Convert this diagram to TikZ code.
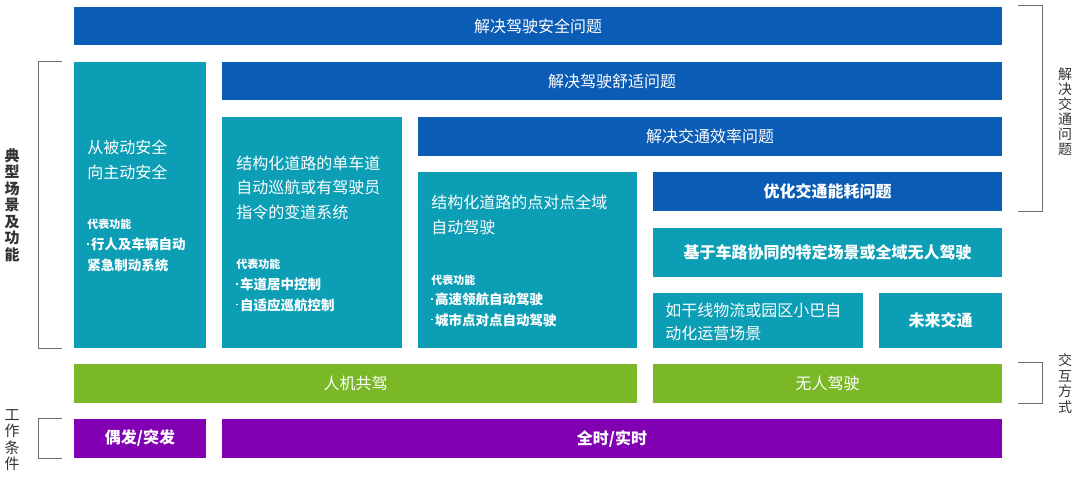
\documentclass[tikz,border=0pt]{standalone}
\usepackage{fontspec}
\setmainfont{Noto Sans CJK SC}
\usetikzlibrary{calc}
\definecolor{deepblue}{HTML}{0A5CB5}
\definecolor{bgteal}{HTML}{0B9EB5}
\definecolor{bggreen}{HTML}{7AB828}
\definecolor{bgpurple}{HTML}{8000B2}
\definecolor{brkgray}{HTML}{6E6E6E}
\definecolor{lblgray}{HTML}{333333}
\newcommand\itemdot{\rule[0.34em]{0.13em}{0.13em}\hspace{0.15em}}
\tikzset{
  blksize/.style 2 args = {minimum width=#1*0.5pt, minimum height=#2*0.5pt},
  barblue/.style   = {fill=deepblue, text=white, inner sep=0pt,
                      font=\fontsize{8pt}{10pt}\selectfont},
  boxteal/.style   = {fill=bgteal, text=white, inner sep=0pt,
                      font=\fontsize{8pt}{10pt}\selectfont},
  bargreen/.style  = {fill=bggreen, text=white, inner sep=0pt,
                      font=\fontsize{8pt}{10pt}\selectfont},
  barpurple/.style = {fill=bgpurple, text=white, inner sep=0pt,
                      font=\bfseries\fontsize{8pt}{10pt}\selectfont},
  maintxt/.style   = {text=white, align=left, inner sep=0pt, anchor=base west,
                      font=\fontsize{8pt}{12.25pt}\selectfont},
  featlbl/.style   = {text=white, inner sep=0pt, anchor=base west,
                      font=\bfseries\fontsize{5.5pt}{7pt}\selectfont},
  featitem/.style  = {text=white, align=left, inner sep=0pt, anchor=base west,
                      font=\bfseries\fontsize{6.75pt}{10.25pt}\selectfont},
  sidelbl/.style   = {text=lblgray, align=center, inner sep=0pt,
                      font=\fontsize{7.5pt}{8.25pt}\selectfont},
  brk/.style       = {draw=brkgray, line width=0.6pt},
}

\begin{document}
\begin{tikzpicture}[x=0.5pt, y=-0.5pt]
    \useasboundingbox (0,0) rectangle (1080,482);

    \node[barblue, blksize={928}{38}]   (safety)     at (538,26)      {解决驾驶安全问题};
    \node[barblue, blksize={780}{38}]   (comfort)    at (612,81)      {解决驾驶舒适问题};
    \node[boxteal, blksize={132}{286}]  (passive)    at (140,205)     {};
    \node[boxteal, blksize={180}{231}]  (lane)       at (312,232.5)   {};
    \node[barblue, blksize={584}{39}]   (efficiency) at (710,136.5)   {解决交通效率问题};
    \node[boxteal, blksize={219}{176}]  (ptp)        at (527.5,260)   {};
    \node[barblue, blksize={349}{39}, font=\bfseries\fontsize{8pt}{10pt}\selectfont]
                                        (energy)     at (827.5,191.5) {优化交通能耗问题};
    \node[boxteal, blksize={349}{49}, font=\bfseries\fontsize{8pt}{10pt}\selectfont]
                                        (vtox)       at (827.5,252.5) {基于车路协同的特定场景或全域无人驾驶};
    \node[boxteal, blksize={210}{55}]   (logistics)  at (758,320.5)   {};
    \node[boxteal, blksize={123}{55}, font=\bfseries\fontsize{8pt}{10pt}\selectfont]
                                        (future)     at (940.5,320.5) {未来交通};
    \node[bargreen, blksize={563}{39}]  (copilot)    at (355.5,383.5) {人机共驾};
    \node[bargreen, blksize={349}{39}]  (driverless) at (827.5,383.5) {无人驾驶};
    \node[barpurple, blksize={132}{39}] (sporadic)   at (140,438.5)   {偶发/突发};
    \node[barpurple, blksize={780}{39}] (fulltime)   at (612,438.5)   {全时/实时};

    \node[maintxt]  (passive-t)   at (87,178)  {从被动安全\\向主动安全};
    \node[featlbl]  (passive-f)   at (87,228)  {代表功能};
    \node[featitem] (passive-i)   at (87,270)  {\itemdot 行人及车辆自动\\紧急制动系统};
    \node[maintxt]  (lane-t)      at (236,218) {结构化道路的单车道\\自动巡航或有驾驶员\\指令的变道系统};
    \node[featlbl]  (lane-f)      at (236,268) {代表功能};
    \node[featitem] (lane-i)      at (236,310) {\itemdot 车道居中控制\\\itemdot 自适应巡航控制};
    \node[maintxt]  (ptp-t)       at (431,233) {结构化道路的点对点全域\\自动驾驶};
    \node[featlbl]  (ptp-f)       at (431,284) {代表功能};
    \node[featitem] (ptp-i)       at (431,325) {\itemdot 高速领航自动驾驶\\\itemdot 城市点对点自动驾驶};
    \node[maintxt, font=\fontsize{8pt}{11.5pt}\selectfont]
                    (logistics-t) at (665,339) {如干线物流或园区小巴自\\动化运营场景};

    \draw[brk] ($(passive.north west)+(-12,0)$) -- ++(-23,0) |- ($(passive.south west)+(-12,0)$);
    \draw[brk] ($(sporadic.north west)+(-12,0)$) -- ++(-23,0) |- ($(sporadic.south west)+(-12,0)$);
    \draw[brk] ($(safety.north east)+(16,-1)$) -- ++(24,0) |- ($(energy.south east)+(16,0)$);
    \draw[brk] ($(driverless.north east)+(16,-1)$) -- ++(24,0) |- ($(driverless.south east)+(16,0)$);

    \node[sidelbl, font=\bfseries\fontsize{7.5pt}{8.25pt}\selectfont]
                   (lblscene) at (12,205)   {典\\型\\场\\景\\及\\功\\能};
    \node[sidelbl] (lblwork)  at (12,440)   {工\\作\\条\\件};
    \node[sidelbl, font=\fontsize{7pt}{7.5pt}\selectfont]
                   (lbltraffic) at (1065,112) {解\\决\\交\\通\\问\\题};
    \node[sidelbl, font=\fontsize{7pt}{7.75pt}\selectfont]
                   (lblmode)  at (1065,383.5) {交\\互\\方\\式};
\end{tikzpicture}
\end{document}
